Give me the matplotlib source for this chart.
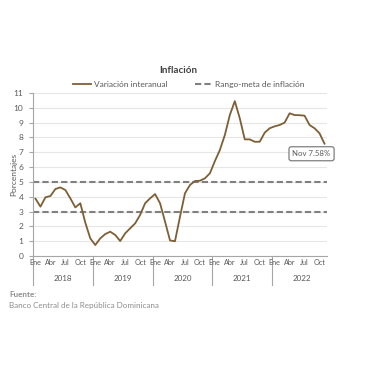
import matplotlib.pyplot as plt
import matplotlib.transforms as mtransforms

plt.rcParams['font.family'] = ['Lato', 'DejaVu Sans']

# Datos: inflación interanual (%), Ene 2018 - Nov 2022
years = ["2018", "2019", "2020", "2021", "2022"]
month_labels = ["Ene", "Abr", "Jul", "Oct"]
inflacion = [
    3.87, 3.33, 3.96, 4.05, 4.52, 4.63, 4.45, 3.89, 3.28, 3.56, 2.25, 1.19,   # 2018
    0.74, 1.19, 1.48, 1.64, 1.42, 1.01, 1.53, 1.87, 2.20, 2.77, 3.56, 3.89,   # 2019
    4.18, 3.56, 2.32, 1.05, 1.00, 2.65, 4.23, 4.79, 5.06, 5.08, 5.24, 5.58,   # 2020
    6.40, 7.15, 8.16, 9.51, 10.45, 9.29, 7.87, 7.87, 7.71, 7.71, 8.32, 8.62,  # 2021
    8.75, 8.84, 9.00, 9.63, 9.51, 9.50, 9.47, 8.84, 8.62, 8.28, 7.58,         # 2022
]
meta_sup = 5
meta_inf = 3
ultimo = "Nov 7.58%"

line_color = "#7D5F36"
dash_color = "#808080"
grid_color = "#E6E6E6"
axis_color = "#A6A6A6"
text_color = "#595959"

fig = plt.figure(figsize=(3.8, 3.8), dpi=100)
ax = fig.add_axes([0.0868, 0.3263, 0.7737, 0.429])

x = list(range(len(inflacion)))
ax.plot(x, inflacion, color=line_color, lw=1.3, label="Variación interanual",
        solid_joinstyle="round", zorder=3)
ax.plot([-0.5, len(inflacion) - 0.5], [meta_sup, meta_sup], color=dash_color,
        lw=1.5, dashes=(3, 1.5), label="Rango-meta de inflación", zorder=2)
ax.plot([-0.5, len(inflacion) - 0.5], [meta_inf, meta_inf], color=dash_color,
        lw=1.5, dashes=(3, 1.5), zorder=2)

ax.set_xlim(-0.5, len(inflacion) - 0.5)
ax.set_ylim(0, 11)
ax.set_yticks(range(0, 12))
ax.grid(axis="y", color=grid_color, lw=0.8, zorder=0)
ax.set_axisbelow(True)

for s in ["top", "right"]:
    ax.spines[s].set_visible(False)
for s in ["left", "bottom"]:
    ax.spines[s].set_color(axis_color)
    ax.spines[s].set_linewidth(0.8)

ax.tick_params(axis="y", labelsize=6, colors=text_color, length=3,
               width=0.8, color=axis_color, pad=4)
ax.set_xticks([])
ax.set_ylabel("Porcentajes", fontsize=6, color=text_color)
ax.yaxis.set_label_coords(-0.054, 0.5)

# etiquetas de meses y años
trans = mtransforms.blended_transform_factory(ax.transData, ax.transAxes)
for k, yr in enumerate(years):
    start = 12 * k
    for j, m in enumerate(month_labels):
        ax.text(start + 3 * j, -0.037, m, transform=trans, fontsize=5.2,
                color=text_color, ha="center", va="center", clip_on=False)
    ax.text(start + 5.5, -0.135, yr, transform=trans, fontsize=5.8,
            color=text_color, ha="center", va="center")
    ax.plot([start - 0.5, start - 0.5], [0, -0.18], transform=trans,
            color=axis_color, lw=0.8, clip_on=False)

# etiqueta del último dato
ax.annotate(ultimo, xy=(len(inflacion) - 1, inflacion[-1]),
            xytext=(55.4, 6.9), fontsize=5.6, color=text_color,
            ha="center", va="center",
            bbox=dict(boxstyle="round,pad=0.45,rounding_size=0.3",
                      fc="white", ec="#7F7F7F", lw=0.9))

fig.text(0.47, 0.815, "Inflación", fontsize=7, fontweight="bold",
         color="#404040", ha="center", va="center")
leg = fig.legend(loc="center", bbox_to_anchor=(0.497, 0.778), ncol=2,
                 frameon=False, fontsize=6, handlelength=2.2,
                 handletextpad=0.3, columnspacing=3.3, labelcolor=text_color)

fig.text(0.024, 0.224, "Fuente:", fontsize=5.8, fontweight="bold",
         color="#8C8C8C", ha="left", va="center")
fig.text(0.024, 0.195, "Banco Central de la República Dominicana", fontsize=5.8,
         color="#8C8C8C", ha="left", va="center")

fig.savefig("out.png", dpi=100, facecolor="white")
